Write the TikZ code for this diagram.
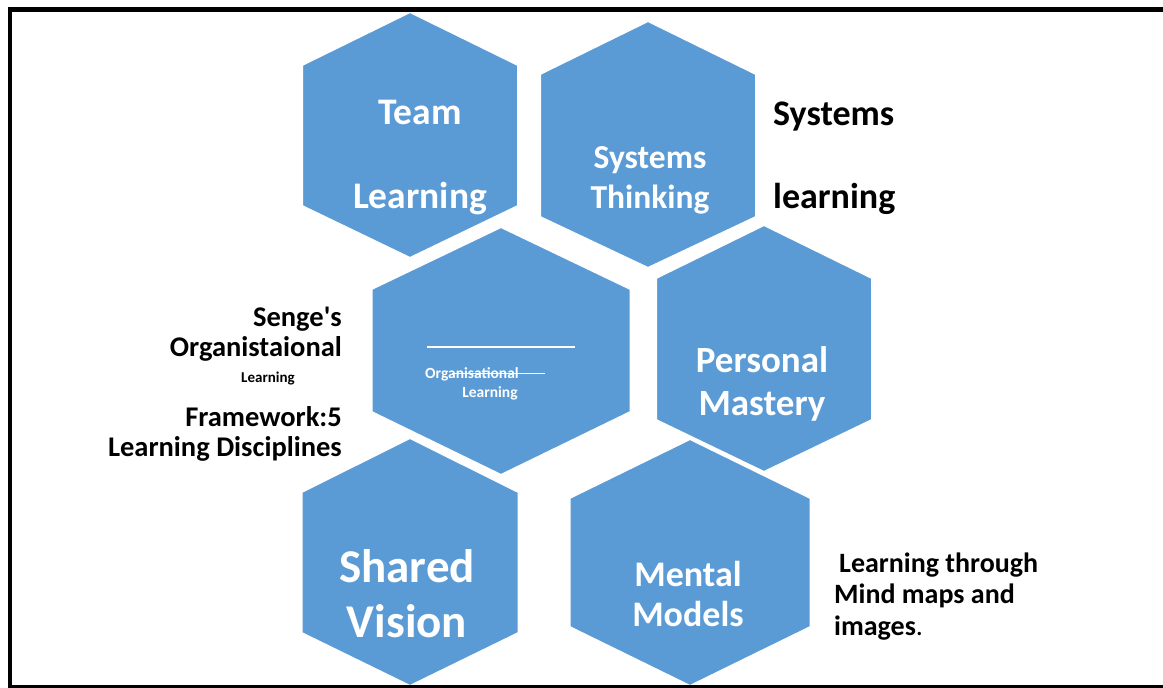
\documentclass[tikz,border=0pt]{standalone}
\usepackage{fontspec}
\setmainfont{Carlito}
\definecolor{hexblue}{RGB}{91,155,213}
\newcommand\hexa[6]{\filldraw[hexstyle] (#1,#3) -- ({#1+#2},#4) -- ({#1+#2},#5) -- (#1,#6) -- ({#1-#2},#5) -- ({#1-#2},#4) -- cycle;}
\newcommand\fs[1]{\fontsize{#1}{#1}\selectfont\bfseries}
\tikzset{
  hexstyle/.style={fill=hexblue, draw=white, line width=2pt, line join=miter},
  wtext/.style={text=white, inner sep=0pt, anchor=base},
  btext/.style={text=black, inner sep=0pt, anchor=base},
  frameline/.style={draw=black}
}
\begin{document}
\begin{tikzpicture}[x=1pt,y=-1pt]
\useasboundingbox (0,0) rectangle (1163,688);
% hexagons
\hexa{410}{108}{12}{65}{206}{258}
\hexa{648}{108}{21}{74}{217}{268}
\hexa{501}{129.5}{227}{289}{412}{475}
\hexa{764}{108}{225}{278}{420}{472}
\hexa{410}{108.5}{438}{492}{633}{686}
\hexa{690}{120.5}{439}{498}{627}{686}
% hexagon texts
\node[wtext] (tl1) at (420,124) {\fs{37.5}Team};
\node[wtext] (tl2) at (420,208) {\fs{37.5}Learning};
\node[wtext] (st1) at (650,168) {\fs{33.5}Systems};
\node[wtext] (st2) at (650,208) {\fs{33.5}Thinking};
\node[wtext] (pm1) at (762,372) {\fs{37}Personal};
\node[wtext] (pm2) at (762,415) {\fs{37}Mastery};
\node[wtext] (sv1) at (407,582) {\fs{47}Shared};
\node[wtext] (sv2) at (407,637) {\fs{47}Vision};
\node[wtext] (mm1) at (688,586) {\fs{36}Mental};
\node[wtext] (mm2) at (688,626) {\fs{36}Models};
% centre hexagon
\coordinate (ol1) at (427,347);
\coordinate (ol2) at (575,347);
\draw[white, line width=1.5pt] (ol1) -- (ol2);
\node[wtext, anchor=base west] (ol3) at (425,378) {\fs{15.5}Organisational};
\coordinate (os1) at (452,373.5);
\coordinate (os2) at (545,373.5);
\draw[white, line width=1pt] (os1) -- (os2);
\node[wtext] (ol4) at (490,397) {\fs{15.5}Learning};
% side texts
\node[btext, anchor=base west] (sl1) at (773,125) {\fs{36}Systems};
\node[btext, anchor=base west] (sl2) at (773,208) {\fs{36}learning};
\node[btext, anchor=base east] (sg1) at (342,326) {\fs{28.5}Senge\textquotesingle s};
\node[btext, anchor=base east] (sg2) at (342,356) {\fs{28.5}Organistaional};
\node[btext] (sg3) at (268,382) {\fs{15}Learning};
\node[btext, anchor=base east] (sg4) at (342,426) {\fs{28.5}Framework:5};
\node[btext, anchor=base east] (sg5) at (342,456) {\fs{28.5}Learning Disciplines};
\node[btext, anchor=base west] (lt1) at (839,572) {\fs{28}Learning through};
\node[btext, anchor=base west] (lt2) at (834,603) {\fs{28}Mind maps and};
\node[btext, anchor=base west] (lt3) at (834,635) {\fs{28}images\mdseries.};
% frame
\coordinate (fa) at (8,9.5);
\coordinate (fb) at (1163,9.5);
\coordinate (fc) at (10,7);
\coordinate (fd) at (10,688);
\coordinate (fe) at (8,686.5);
\coordinate (ff) at (1163,686.5);
\draw[frameline, line width=5pt] (fa) -- (fb);
\draw[frameline, line width=4.5pt] (fc) -- (fd);
\draw[frameline, line width=3pt] (fe) -- (ff);
\end{tikzpicture}
\end{document}
